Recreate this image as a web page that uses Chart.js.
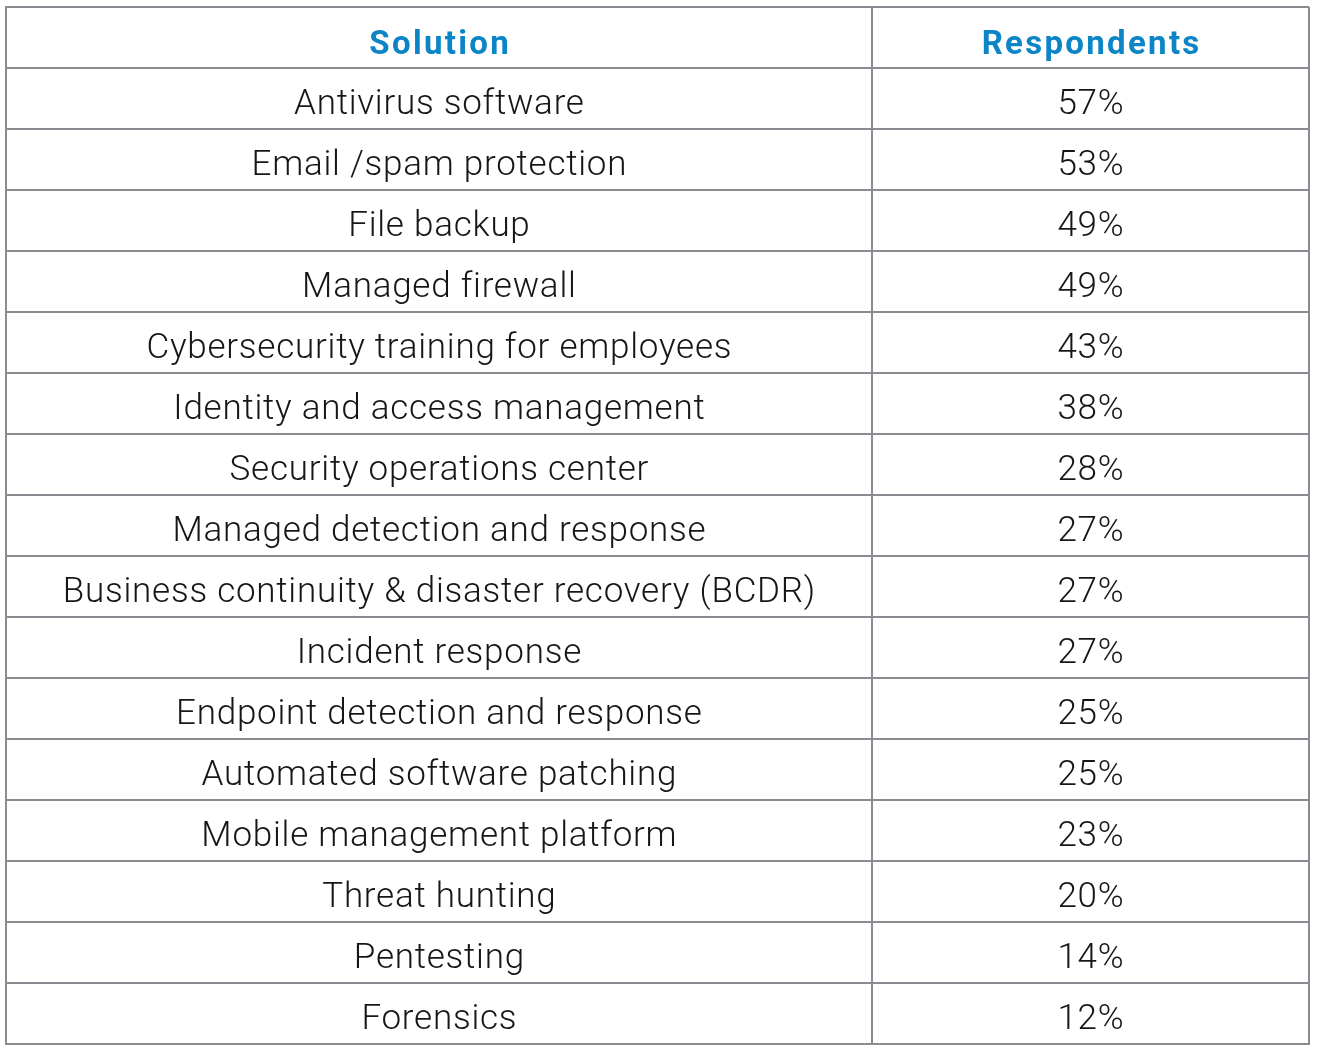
<!DOCTYPE html>
<html>
<head>
<meta charset="utf-8">
<script src="https://cdn.jsdelivr.net/npm/chart.js@4/dist/chart.umd.min.js"></script>
<style>
html,body{margin:0;padding:0;background:#fff;}
#wrap{width:1318px;height:1052px;}
</style>
</head>
<body>
<div id="wrap"><canvas id="c" width="1318" height="1052"></canvas></div>
<script>
const headers = ['Solution', 'Respondents'];
const solutions = [
  'Antivirus software',
  'Email /spam protection',
  'File backup',
  'Managed firewall',
  'Cybersecurity training for employees',
  'Identity and access management',
  'Security operations center',
  'Managed detection and response',
  'Business continuity & disaster recovery (BCDR)',
  'Incident response',
  'Endpoint detection and response',
  'Automated software patching',
  'Mobile management platform',
  'Threat hunting',
  'Pentesting',
  'Forensics'
];
const respondents = [57, 53, 49, 49, 43, 38, 28, 27, 27, 27, 25, 25, 23, 20, 14, 12];

// column boundaries as fractions of the table width
const columnEdges = [0, 0.6646, 1];

const nRows = solutions.length + 1;
const colCenter = i => (columnEdges[i] + columnEdges[i + 1]) / 2;

const headerRow = headers.map((h, i) => ({x: colCenter(i), y: 0.5, label: h}));
const col1 = solutions.map((s, i) => ({x: colCenter(0), y: i + 1.5, label: s}));
const col2 = respondents.map((v, i) => ({x: colCenter(1), y: i + 1.5, label: v + '%'}));

const LINE = '#8b8b91';
const BODY_FONT = '300 35px Roboto, "Open Sans", sans-serif';
const HEAD_FONT = '700 33px Roboto, "Open Sans", sans-serif';

const cellText = {
  id: 'cellText',
  afterDatasetsDraw(chart) {
    const ctx = chart.ctx;
    ctx.save();
    ctx.textAlign = 'center';
    ctx.textBaseline = 'alphabetic';
    chart.data.datasets.forEach((ds, di) => {
      const meta = chart.getDatasetMeta(di);
      ctx.font = ds.cellFont;
      ctx.fillStyle = ds.cellColor;
      ctx.letterSpacing = ds.cellSpacing + 'px';
      meta.data.forEach((el, i) => {
        ctx.fillText(ds.data[i].label, el.x + ds.cellSpacing / 2, el.y + ds.cellDy);
      });
    });
    ctx.restore();
  }
};

new Chart(document.getElementById('c'), {
  type: 'scatter',
  data: {
    datasets: [
      {data: headerRow, pointRadius: 0, cellFont: HEAD_FONT, cellColor: '#0b85c6', cellDy: 16, cellSpacing: 2.3},
      {data: col1, pointRadius: 0, cellFont: BODY_FONT, cellColor: '#161616', cellDy: 15.5, cellSpacing: 0.75},
      {data: col2, pointRadius: 0, cellFont: BODY_FONT, cellColor: '#161616', cellDy: 15.5, cellSpacing: 0.75}
    ]
  },
  options: {
    responsive: false,
    animation: false,
    events: [],
    layout: {padding: {left: 6, top: 7, right: 9, bottom: 8}},
    plugins: {legend: {display: false}, tooltip: {enabled: false}},
    scales: {
      x: {
        type: 'linear', min: 0, max: 1,
        afterBuildTicks: s => { s.ticks = columnEdges.map(v => ({value: v})); },
        ticks: {display: false},
        grid: {color: LINE, lineWidth: 2, drawTicks: false},
        border: {display: true, color: LINE, width: 2}
      },
      y: {
        type: 'linear', min: 0, max: nRows, reverse: true,
        afterBuildTicks: s => { s.ticks = Array.from({length: nRows + 1}, (_, i) => ({value: i})); },
        ticks: {display: false},
        grid: {color: LINE, lineWidth: 2, drawTicks: false},
        border: {display: true, color: LINE, width: 2}
      }
    }
  },
  plugins: [cellText]
});
</script>
</body>
</html>
